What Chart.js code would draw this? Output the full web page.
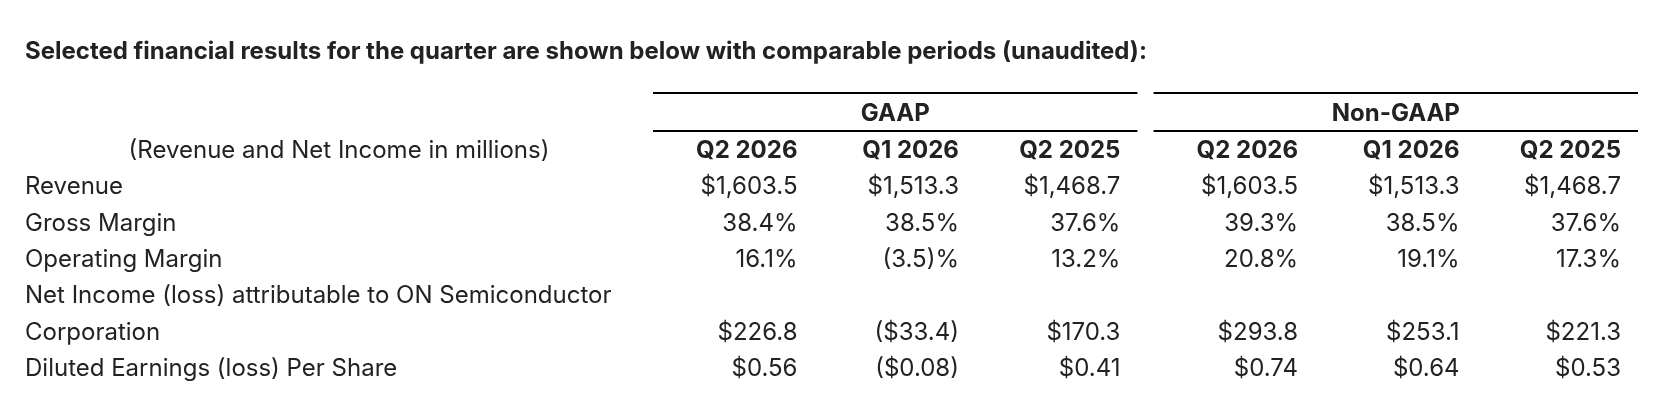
<!DOCTYPE html>
<html>
<head>
<meta charset="utf-8">
<script src="https://cdn.jsdelivr.net/npm/chart.js@4.4.1/dist/chart.umd.min.js"></script>
<style>
  html, body { margin: 0; padding: 0; background: #ffffff; }
  #wrap { width: 1669px; height: 411px; position: relative; }
</style>
</head>
<body>
<div id="wrap"><canvas id="c"></canvas></div>
<script>
// ---------- data ----------
const titleText = 'Selected financial results for the quarter are shown below with comparable periods (unaudited):';
const unitNote = '(Revenue and Net Income in millions)';
const groups = ['GAAP', 'Non-GAAP'];
const periods = ['Q2 2026', 'Q1 2026', 'Q2 2025'];
const metrics = [
  'Revenue',
  'Gross Margin',
  'Operating Margin',
  ['Net Income (loss) attributable to ON Semiconductor', 'Corporation'],
  'Diluted Earnings (loss) Per Share'
];
const metricKinds = ['usd1', 'pct', 'pct', 'usd1', 'usd2'];

const gaapQ2_2026 = [1603.5, 38.4, 16.1, 226.8, 0.56];
const gaapQ1_2026 = [1513.3, 38.5, -3.5, -33.4, -0.08];
const gaapQ2_2025 = [1468.7, 37.6, 13.2, 170.3, 0.41];
const nonGaapQ2_2026 = [1603.5, 39.3, 20.8, 293.8, 0.74];
const nonGaapQ1_2026 = [1513.3, 38.5, 19.1, 253.1, 0.64];
const nonGaapQ2_2025 = [1468.7, 37.6, 17.3, 221.3, 0.53];

// ---------- layout / style ----------
const FONT = 'Inter';
const TEXT = '#222222';
const RULE = '#000000';
const GROUP_GAP = 0.1;        // spacer between GAAP and Non-GAAP blocks (in column units)
const LABEL_COL_WIDTH = 628;  // width of the row-label column
const CELL_PAD = 17;
const TOP_RULE_DY = -3;
const MID_RULE_DY = -2;
const GROUP_TEXT_DY = -1;

function fmt(v, kind) {
  const a = Math.abs(v);
  if (kind === 'pct') {
    const s = a.toFixed(1);
    return v < 0 ? '(' + s + ')%' : s + '%';
  }
  const d = kind === 'usd2' ? 2 : 1;
  const s = '$' + a.toLocaleString('en-US', { minimumFractionDigits: d, maximumFractionDigits: d });
  return v < 0 ? '(' + s + ')' : s;
}

// y lines: 2 header lines (group, period), then metric label lines (wrapped labels take several lines)
const HEADER_GROUP = ' ';
const HEADER_PERIOD = '  ';
const lines = [HEADER_GROUP, HEADER_PERIOD].concat(metrics.flat());
const valueLine = metrics.map(m => Array.isArray(m) ? m[m.length - 1] : m);

const seriesByGroup = [
  [gaapQ2_2026, gaapQ1_2026, gaapQ2_2025],
  [nonGaapQ2_2026, nonGaapQ1_2026, nonGaapQ2_2025]
];

const datasets = [];
seriesByGroup.forEach((cols, g) => {
  cols.forEach((vals, p) => {
    datasets.push({
      label: groups[g] + ' ' + periods[p],
      groupIndex: g,
      periodIndex: p,
      data: vals.map((v, i) => ({
        x: g * (periods.length + GROUP_GAP) + p,
        y: valueLine[i],
        v: v,
        kind: metricKinds[i]
      })),
      pointRadius: 0,
      pointHoverRadius: 0,
      showLine: false
    });
  });
});

const tablePlugin = {
  id: 'tableText',
  afterDatasetsDraw(chart) {
    const { ctx, chartArea, scales: { x, y } } = chart;
    const half = (x.getPixelForValue(1) - x.getPixelForValue(0)) / 2;
    const yGroup = y.getPixelForValue(lines.indexOf(HEADER_GROUP));
    const yPeriod = y.getPixelForValue(lines.indexOf(HEADER_PERIOD));
    const rowH = yPeriod - yGroup;
    ctx.save();
    ctx.textBaseline = 'middle';

    // unit note, centred in the label column
    ctx.fillStyle = TEXT;
    ctx.font = '24px ' + FONT;
    ctx.textAlign = 'center';
    ctx.fillText(unitNote, (y.left + chartArea.left) / 2, yPeriod);

    // group headers with rules
    groups.forEach((name, g) => {
      const start = g * (periods.length + GROUP_GAP);
      const x0 = x.getPixelForValue(start - 0.5);
      const x1 = x.getPixelForValue(start + periods.length - 0.5);
      ctx.fillStyle = RULE;
      ctx.fillRect(x0, Math.round(yGroup - rowH / 2 + TOP_RULE_DY) - 1, x1 - x0, 2);
      ctx.fillRect(x0, Math.round(yGroup + rowH / 2 + MID_RULE_DY) - 1, x1 - x0, 2);
      ctx.fillStyle = TEXT;
      ctx.font = 'bold 24px ' + FONT;
      ctx.textAlign = 'center';
      ctx.fillText(name, (x0 + x1) / 2, yGroup + GROUP_TEXT_DY);
    });

    // period headers and values
    ctx.textAlign = 'right';
    chart.data.datasets.forEach((ds, di) => {
      const meta = chart.getDatasetMeta(di);
      meta.data.forEach((el, i) => {
        const raw = ds.data[i];
        const right = el.x + half - CELL_PAD;
        if (i === 0) {
          ctx.font = 'bold 24px ' + FONT;
          ctx.fillText(periods[ds.periodIndex], right, yPeriod);
        }
        ctx.font = '24px ' + FONT;
        ctx.fillText(fmt(raw.v, raw.kind), right, el.y);
      });
    });
    ctx.restore();
  }
};

Chart.defaults.font.family = FONT;
Chart.defaults.color = TEXT;

new Chart(document.getElementById('c'), {
  type: 'scatter',
  data: { datasets },
  plugins: [tablePlugin],
  options: {
    responsive: true,
    maintainAspectRatio: false,
    animation: false,
    events: [],
    layout: { padding: { left: 25, right: 31, top: 0, bottom: 24 } },
    plugins: {
      legend: { display: false },
      tooltip: { enabled: false },
      title: {
        display: true,
        text: titleText,
        align: 'start',
        color: TEXT,
        font: { family: FONT, size: 24, weight: 'bold' },
        padding: { top: 37.5, bottom: 30 }
      }
    },
    scales: {
      x: {
        type: 'linear',
        display: false,
        min: -0.5,
        max: (groups.length - 1) * (periods.length + GROUP_GAP) + periods.length - 0.5
      },
      y: {
        type: 'category',
        labels: lines,
        offset: true,
        grid: { display: false },
        border: { display: false },
        ticks: {
          autoSkip: false,
          crossAlign: 'far',
          padding: 0,
          color: TEXT,
          font: { family: FONT, size: 24 }
        },
        afterFit(scale) { scale.width = LABEL_COL_WIDTH; }
      }
    }
  }
});
</script>
</body>
</html>
